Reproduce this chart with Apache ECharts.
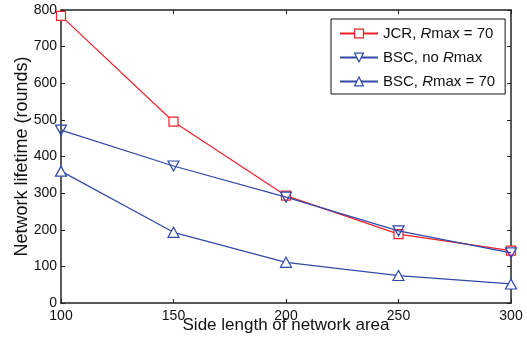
<!DOCTYPE html>
<html><head><meta charset="utf-8">
<script src="https://cdn.jsdelivr.net/npm/echarts@6/dist/echarts.min.js"></script>
<style>html,body{margin:0;padding:0;background:#fff}#c{width:527px;height:337px}</style>
</head><body><div id="c"></div>
<script>
var sideLengths = [100, 150, 200, 250, 300];
var jcrRmax70 = [784, 495, 293, 188, 143];
var bscNoRmax = [472, 374, 289, 197, 137];
var bscRmax70 = [360, 193, 111, 75, 52];
var xTicks = [100, 150, 200, 250, 300];
var yTicks = [0, 100, 200, 300, 400, 500, 600, 700, 800];

var RED = '#ee2228', BLUE = '#3049a8';
var FONT = 'Liberation Sans, Arial, Helvetica, sans-serif';
function pairs(v){ return sideLengths.map(function(x,i){return [x, v[i]];}); }
var rich = { n:{fontFamily:FONT,fontSize:15,color:'#111'}, i:{fontFamily:FONT,fontSize:15,fontStyle:'italic',color:'#111'} };
var names = ['JCR, Rmax = 70', 'BSC, no Rmax', 'BSC, Rmax = 70 '];
var legendFmt = {};
legendFmt[names[0]] = '{n|JCR, }{i|R}{n|max = 70}';
legendFmt[names[1]] = '{n|BSC, no }{i|R}{n|max}';
legendFmt[names[2]] = '{n|BSC, }{i|R}{n|max = 70}';

var axisLine = {show:true, onZero:false, lineStyle:{color:'#222', width:1.5}};
var tick = {show:true, inside:true, length:4, lineStyle:{color:'#222'}};
var chart = echarts.init(document.getElementById('c'));
chart.setOption({
  animation:false,
  backgroundColor:'#fff',
  grid:{left:61, right:16, top:10, bottom:34, outerBoundsMode:'none', containLabel:false},
  legend:{
    left:331, top:19, orient:'vertical', itemWidth:38, itemHeight:11, itemGap:9,
    backgroundColor:'#fff', borderColor:'#111', borderWidth:1, padding:[7,10,5,8],
    data:[
      {name:names[0], itemStyle:{color:'#fff', borderColor:RED, borderWidth:1.2}},
      {name:names[1], itemStyle:{color:'#fff', borderColor:BLUE, borderWidth:1.2}},
      {name:names[2], itemStyle:{color:'#fff', borderColor:BLUE, borderWidth:1.2}}
    ],
    formatter:function(n){return legendFmt[n];},
    textStyle:{rich:rich, fontFamily:FONT, fontSize:15}
  },
  xAxis:[{
    type:'value', min:100, max:300, interval:50,
    name:'Side length of network area', nameLocation:'middle', nameGap:14, nameMoveOverlap:false,
    nameTextStyle:{fontFamily:FONT, fontSize:17, color:'#111'},
    axisLine:axisLine, axisTick:tick,
    axisLabel:{fontFamily:FONT, fontSize:14, color:'#111', margin:6,
      formatter:function(v){return xTicks.indexOf(v)>=0 ? String(v) : '';}},
    splitLine:{show:false}
  },{
    type:'value', min:100, max:300, interval:50, position:'top',
    axisLine:axisLine, axisTick:tick, axisLabel:{show:false}, splitLine:{show:false}
  }],
  yAxis:[{
    type:'value', min:0, max:800, interval:100,
    name:'Network lifetime (rounds)', nameLocation:'middle', nameGap:30, nameMoveOverlap:false,
    nameTextStyle:{fontFamily:FONT, fontSize:18, color:'#111'},
    axisLine:axisLine, axisTick:tick,
    axisLabel:{fontFamily:FONT, fontSize:14, color:'#111', margin:4,
      formatter:function(v){return yTicks.indexOf(v)>=0 ? String(v) : '';}},
    splitLine:{show:false}
  },{
    type:'value', min:0, max:800, interval:100, position:'right',
    axisLine:axisLine, axisTick:tick, axisLabel:{show:false}, splitLine:{show:false}
  }],
  series:[
    {name:names[0], type:'line', data:pairs(jcrRmax70), symbol:'rect', symbolSize:9,
     lineStyle:{color:RED, width:1.2}, itemStyle:{color:'#fff', borderColor:RED, borderWidth:1.2}, z:3},
    {name:names[1], type:'line', data:pairs(bscNoRmax), symbol:'triangle', symbolRotate:180, symbolSize:[11,10],
     lineStyle:{color:BLUE, width:1.2}, itemStyle:{color:'rgba(255,255,255,0)', borderColor:BLUE, borderWidth:1.2}, z:4},
    {name:names[2], type:'line', data:pairs(bscRmax70), symbol:'triangle', symbolSize:[11,10],
     lineStyle:{color:BLUE, width:1.2}, itemStyle:{color:'#fff', borderColor:BLUE, borderWidth:1.2}, z:4}
  ]
});
</script></body></html>
